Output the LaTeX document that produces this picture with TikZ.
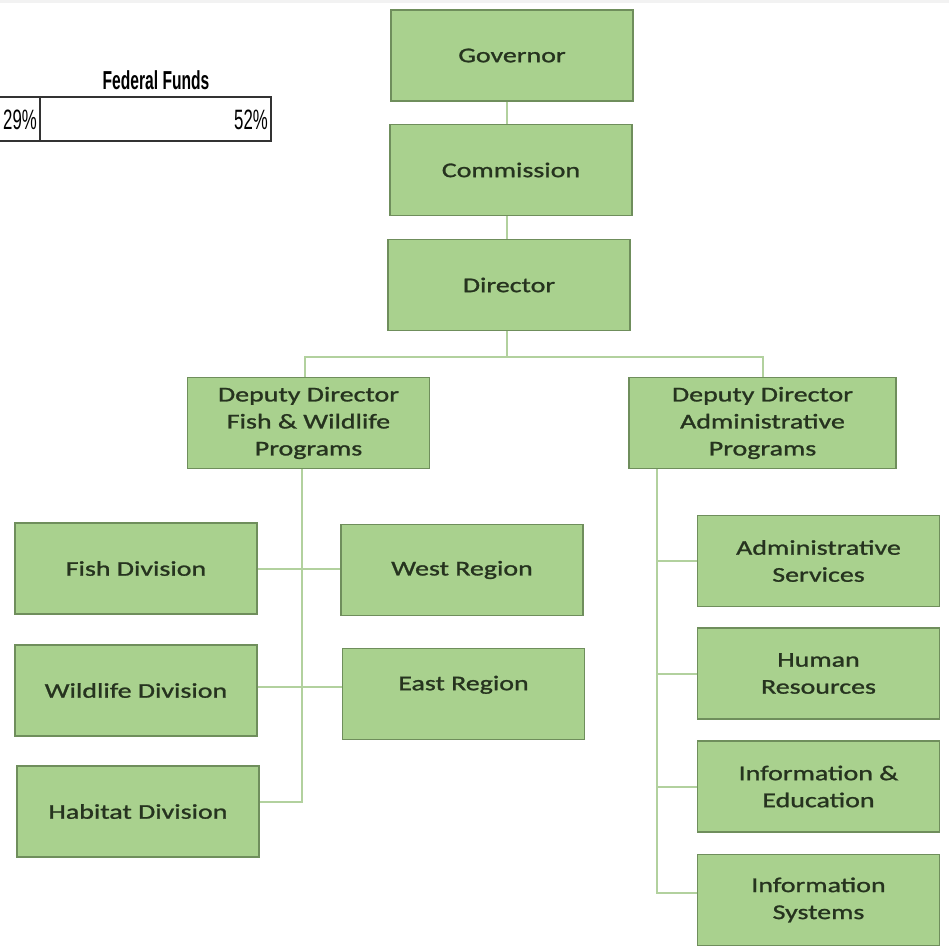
\documentclass[tikz,border=0pt]{standalone}
\usepackage{fontspec}
\setmainfont[FakeStretch=1.33,FakeBold=1.2]{Carlito}
\newfontfamily\tabfont[FakeStretch=0.6]{Liberation Sans}
\definecolor{boxfill}{HTML}{A9D18E}
\definecolor{boxedge}{HTML}{6F8E5C}
\definecolor{boxtext}{HTML}{26331F}
\definecolor{linkcol}{HTML}{B2D19E}
\definecolor{tabline}{HTML}{333333}
\begin{document}
\begin{tikzpicture}[x=1pt,y=-1pt,
  box/.style={draw=boxedge, fill=boxfill, line width=1.6pt, minimum width=242pt,
    minimum height=91pt, inner sep=0pt, align=center, text=boxtext,
    font=\fontsize{21}{27}\selectfont},
  link/.style={draw=linkcol, line width=2pt},
  tabtext/.style={inner sep=0pt, font=\tabfont\fontsize{28}{28}\selectfont},
  tabrule/.style={draw=tabline, line width=1.5pt}]
\useasboundingbox (0,0) rectangle (949,951);
\fill[gray!10] (0,0) rectangle (949,3);

% table fragment
\node[tabtext, font=\tabfont\bfseries\fontsize{26}{26}\selectfont] (fftitle) at (156,80) {Federal Funds};
\draw[tabrule] (-5,97) -- (271,97) -- (271,141) -- (-5,141);
\draw[tabrule] (40,97) -- (40,141);
\node[tabtext, anchor=east] (p29) at (37,120) {29\%};
\node[tabtext, anchor=east] (p52) at (268,120) {52\%};

% top chain
\node[box] (gov) at (512,55.5) {Governor};
\node[box] (com) at (511,170) {Commission};
\node[box] (dir) at (509,285) {Director};
\node[box] (ddfw) at (308.5,423) {Deputy Director\\Fish \& Wildlife\\Programs};
\node[box, minimum width=267pt] (ddad) at (762.5,423) {Deputy Director\\Administrative\\Programs};

% left group
\node[box] (fish) at (136,568.5) {Fish Division};
\node[box] (wild) at (136,690.5) {Wildlife Division};
\node[box] (hab) at (138,811.5) {Habitat Division};
\node[box] (west) at (462,570) {West Region};
\node[box, text depth=22pt] (east) at (463.5,694) {East Region};

% right group
\node[box] (adm) at (818.5,561) {Administrative\\Services};
\node[box] (hr) at (818.5,673.5) {Human\\Resources};
\node[box] (ie) at (818.5,786.5) {Information \&\\Education};
\node[box] (isys) at (818.5,900) {Information\\Systems};

% connectors
\coordinate (spine) at (507,0);
\coordinate (hub) at (507,357);
\draw[link] (gov.south -| spine) -- (com.north -| spine);
\draw[link] (com.south -| spine) -- (dir.north -| spine);
\draw[link] (dir.south -| hub) -- (hub);
\draw[link] ([xshift=-3.5pt]ddfw.north) |- (hub) -| (ddad.north);
\coordinate (lbus) at ([xshift=-6.5pt]ddfw.south);
\draw[link] (lbus) |- ([yshift=10pt]hab.east);
\draw[link] (fish.east) -- (fish.east -| west.west);
\draw[link] ([yshift=4pt]wild.east) -- ([yshift=4pt]wild.east -| east.west);
\coordinate (rbus) at ([xshift=-105.5pt]ddad.south);
\draw[link] (rbus) |- ([yshift=7pt]isys.west);
\draw[link] (rbus |- adm.west) -- (adm.west);
\draw[link] (rbus |- hr.west) -- (hr.west);
\draw[link] (rbus |- ie.west) -- (ie.west);
\end{tikzpicture}
\end{document}
